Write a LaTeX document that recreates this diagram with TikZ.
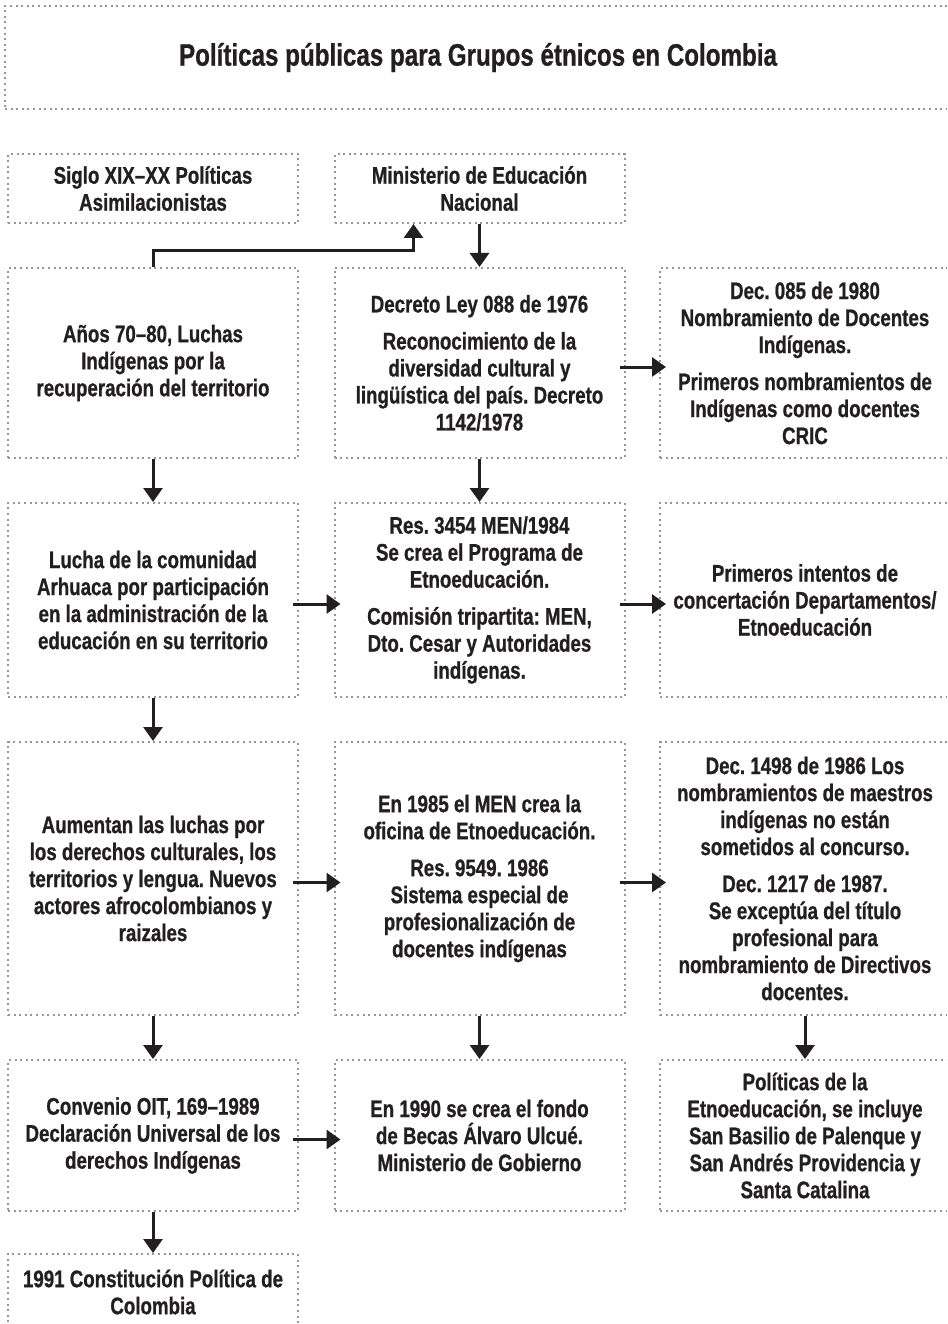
\documentclass[tikz,border=0pt]{standalone}
\usepackage{fontspec}
\setmainfont{Liberation Sans}[FakeStretch=0.78,BoldFeatures={FakeBold=0.8}]
\usepackage{tikz}
\usetikzlibrary{positioning,arrows.meta}
\usepackage{xcolor}
\definecolor{dotgray}{RGB}{150,150,150}
\definecolor{ink}{RGB}{35,31,32}
\frenchspacing

\begin{document}
\begin{tikzpicture}[
  x=1pt,y=-1pt,
  box/.style={rectangle,draw=dotgray,line width=2pt,dash pattern=on 2pt off 3.6pt,
              text=ink,align=center,inner sep=0pt,minimum width=290pt,
              font=\fontsize{24}{27}\selectfont\bfseries},
  tbox/.style={box,minimum width=946pt,minimum height=103pt,
              font=\fontsize{31}{36}\selectfont\bfseries},
  arr/.style={draw=ink,line width=3pt,-{Triangle[length=14pt,width=19pt]}}
]
\clip (0,0) rectangle (947,1324);
\node[tbox] (tit) at (478,57.5) {Políticas públicas para Grupos étnicos en Colombia};

\node[box,minimum height=69pt] (a1) at (153,188.5) {Siglo XIX–XX Políticas\\Asimilacionistas};
\node[box,minimum height=69pt] (b1) at (479.5,188.5) {Ministerio de Educación\\Nacional};

\node[box,minimum height=190pt] (a2) at (153,363) {Años 70–80, Luchas\\Indígenas por la\\recuperación del territorio};
\node[box,minimum height=190pt] (b2) at (479.5,363) {Decreto Ley 088 de 1976\\[10pt]Reconocimiento de la\\diversidad cultural y\\lingüística del país. Decreto\\1142/1978};
\node[box,minimum height=190pt] (c2) at (805,363) {Dec. 085 de 1980\\Nombramiento de Docentes\\Indígenas.\\[10pt]Primeros nombramientos de\\Indígenas como docentes\\CRIC};

\node[box,minimum height=194pt] (a3) at (153,600) {Lucha de la comunidad\\Arhuaca por participación\\en la administración de la\\educación en su territorio};
\node[box,minimum height=194pt] (b3) at (479.5,600) {Res. 3454 MEN/1984\\Se crea el Programa de\\Etnoeducación.\\[10pt]Comisión tripartita: MEN,\\Dto. Cesar y Autoridades\\indígenas.};
\node[box,minimum height=194pt] (c3) at (805,600) {Primeros intentos de\\concertación Departamentos/\\Etnoeducación};

\node[box,minimum height=273pt] (a4) at (153,878.5) {Aumentan las luchas por\\los derechos culturales, los\\territorios y lengua. Nuevos\\actores afrocolombianos y\\raizales};
\node[box,minimum height=273pt] (b4) at (479.5,878.5) {En 1985 el MEN crea la\\oficina de Etnoeducación.\\[10pt]Res. 9549. 1986\\Sistema especial de\\profesionalización de\\docentes indígenas};
\node[box,minimum height=273pt] (c4) at (805,878.5) {Dec. 1498 de 1986 Los\\nombramientos de maestros\\indígenas no están\\sometidos al concurso.\\[10pt]Dec. 1217 de 1987.\\Se exceptúa del título\\profesional para\\nombramiento de Directivos\\docentes.};

\node[box,minimum height=151pt] (a5) at (153,1135.5) {Convenio OIT, 169–1989\\Declaración Universal de los\\derechos Indígenas};
\node[box,minimum height=151pt] (b5) at (479.5,1135.5) {En 1990 se crea el fondo\\de Becas Álvaro Ulcué.\\Ministerio de Gobierno};
\node[box,minimum height=151pt] (c5) at (805,1135.5) {Políticas de la\\Etnoeducación, se incluye\\San Basilio de Palenque y\\San Andrés Providencia y\\Santa Catalina};

\node[box,minimum height=76pt] (a6) at (153,1292) {1991 Constitución Política de\\Colombia};

% vertical links
\draw[arr] (a2.north) -- ++(0,-16) -| ([xshift=-66pt]b1.south);
\draw[arr] (b1) -- (b2);
\draw[arr] (a2) -- (a3);
\draw[arr] (b2) -- (b3);
\draw[arr] (a3) -- (a4);
\draw[arr] (a4) -- (a5);
\draw[arr] (b4) -- (b5);
\draw[arr] (c4) -- (c5);
\draw[arr] (a5) -- (a6);

% horizontal links
\draw[arr] ([xshift=-6pt,yshift=-4pt]b2.east) -- ([xshift=7pt,yshift=-4pt]c2.west);
\draw[arr] ([xshift=-6pt,yshift=-4pt]a3.east) -- ([xshift=7pt,yshift=-4pt]b3.west);
\draw[arr] ([xshift=-6pt,yshift=-4pt]b3.east) -- ([xshift=7pt,yshift=-4pt]c3.west);
\draw[arr] ([xshift=-6pt,yshift=-4pt]a4.east) -- ([xshift=7pt,yshift=-4pt]b4.west);
\draw[arr] ([xshift=-6pt,yshift=-4pt]b4.east) -- ([xshift=7pt,yshift=-4pt]c4.west);
\draw[arr] ([xshift=-6pt,yshift=-4pt]a5.east) -- ([xshift=7pt,yshift=-4pt]b5.west);
\end{tikzpicture}
\end{document}
